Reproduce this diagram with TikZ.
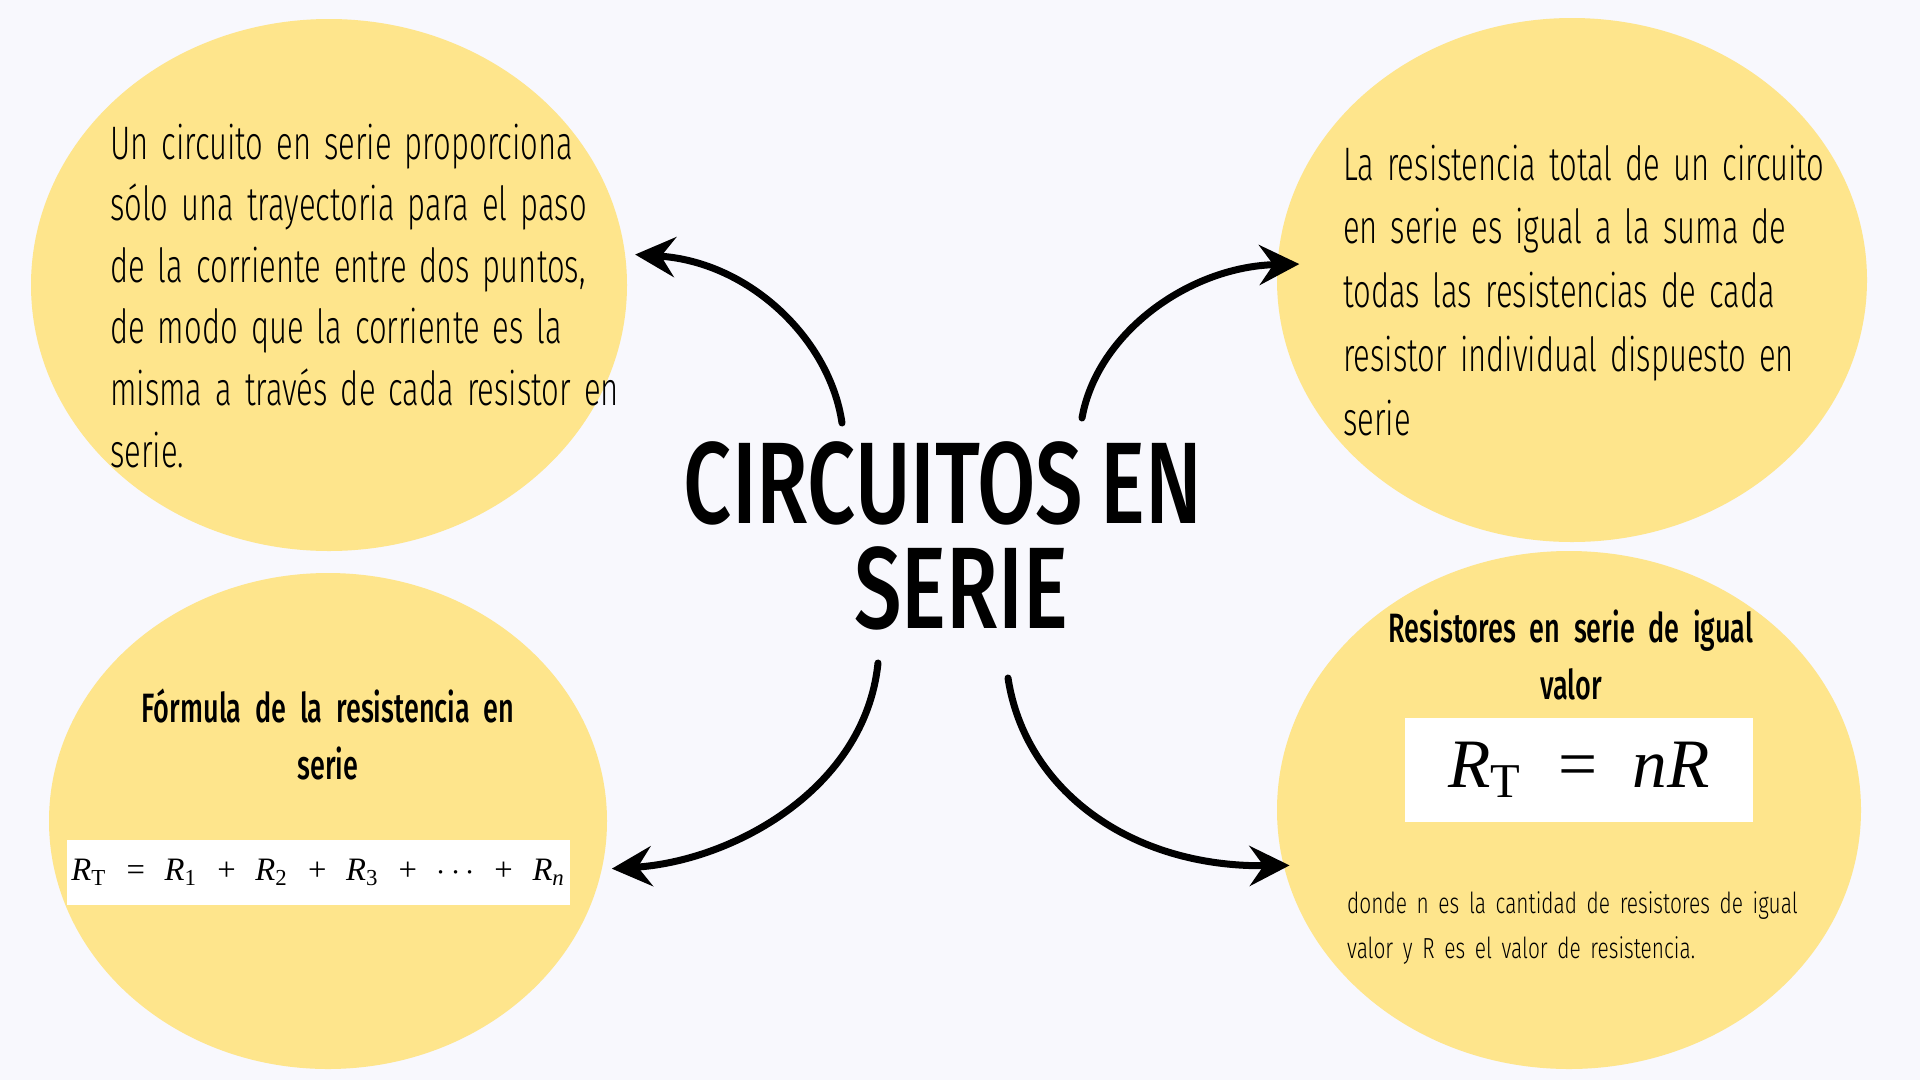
\documentclass[tikz,border=0pt]{standalone}
\usepackage{fontspec}
\usepackage{graphicx}
\usetikzlibrary{arrows.meta,shapes.geometric}

\newfontfamily\bodyfont{Fira Sans Light}[FakeStretch=0.66]
\newfontfamily\notefont{Fira Sans Light}[FakeStretch=0.72]
\newfontfamily\headfont{Fira Sans Medium}[FakeStretch=0.66]
\newfontfamily\titlefont{Fira Sans Medium}[FakeStretch=0.73]
\newfontfamily\formfont{Liberation Serif}
\newcommand\resR[1]{\textit{R}\textsubscript{#1}}
\newcommand\opgap{\hspace{0.6em}}
\newcommand\wordgap[1]{\spaceskip=#1\relax}
\definecolor{paper}{RGB}{248,248,253}
\definecolor{bubble}{RGB}{254,229,140}

\begin{document}
\begin{tikzpicture}[x=1pt, y=-1pt,
    bubble/.style={ellipse, fill=bubble, draw=none, inner sep=0pt},
    bodytext/.style={anchor=base west, inner sep=0pt, align=left, text width=620pt},
    headtext/.style={anchor=base, inner sep=0pt, align=center, text width=480pt,
        font=\headfont\fontsize{41}{57}\selectfont},
    formbox/.style={fill=white, inner sep=0pt, font=\formfont},
    link/.style={line width=7pt, line cap=round, -{Stealth[length=40pt, width=40pt, inset=14pt]}}]

    \fill[paper] (0,0) rectangle (1920,1080); % background
    \useasboundingbox (0,0) rectangle (1920,1080);

    % Bubbles
    \node[bubble, minimum width=596pt, minimum height=532pt] (tlbub) at (329,285) {};
    \node[bubble, minimum width=590pt, minimum height=524pt] (trbub) at (1572,280) {};
    \node[bubble, minimum width=558pt, minimum height=496pt] (blbub) at (328,821) {};
    \node[bubble, minimum width=584pt, minimum height=518pt] (brbub) at (1569,810) {};

    % Title
    \node[anchor=base, inner sep=0pt, align=center, text width=700pt,
        font=\titlefont\fontsize{116}{105}\selectfont] (title) at (943,523)
        {CIRCUITOS\hspace{17pt}EN\\\hspace*{36pt}SERIE};

    % Top left
    \node[bodytext, font=\bodyfont\fontsize{47}{61.6}\selectfont] (tltext) at (110,159)
        {\wordgap{13pt}Un circuito en serie proporciona\\
         sólo una trayectoria para el paso\\
         de la corriente entre dos puntos,\\
         de modo que la corriente es la\\
         misma a través de cada resistor en\\
         serie.};

    % Top right
    \node[bodytext, font=\bodyfont\fontsize{47}{63.8}\selectfont] (trtext) at (1343,180)
        {\wordgap{13pt}La resistencia total de un circuito\\
         en serie es igual a la suma de\\
         todas las resistencias de cada\\
         resistor individual dispuesto en\\
         serie};

    % Bottom left
    \node[headtext] (blhead) at (328,722) {Fórmula de la resistencia en\\serie};
    \node[formbox, minimum width=503pt, minimum height=65pt] (sumbox) at (318.5,872.5)
        {\resizebox{494pt}{!}{\resR{T}\opgap=\opgap\resR{1}\opgap+\opgap\resR{2}\opgap+\opgap\resR{3}\opgap+\opgap$\cdots$\opgap+\opgap\textit{R}\textsubscript{\textit{n}}}};

    % Bottom right
    \node[headtext] (brhead) at (1571,642) {Resistores en serie de igual\\valor};
    \node[formbox, minimum width=348pt, minimum height=104pt] (prodbox) at (1579,770)
        {\resizebox{261pt}{!}{\resR{T}\hspace{0.5em}=\hspace{0.5em}\textit{nR}}};
    \node[bodytext, font=\notefont\fontsize{29}{45}\selectfont] (brnote) at (1347,913)
        {donde n es la cantidad de resistores de igual\\
         valor y R es el valor de resistencia.};

    % Connectors
    \coordinate (tlfoot) at (842,423);
    \coordinate (trfoot) at (1082,418);
    \coordinate (blfoot) at (878,663);
    \coordinate (brfoot) at (1008,678);
    \draw[link, shorten >=10pt] (tlfoot) .. controls +(-12,-83) and +(125,8) .. (tlbub.6);
    \draw[link, shorten >=-22pt] (trfoot) .. controls +(15,-85) and +(-88,2) .. (trbub.177);
    \draw[link, shorten >=10pt] (blfoot) .. controls +(-13,127) and +(129,-8) .. (blbub.350);
    \draw[link, shorten >=-6pt] (brfoot) .. controls +(17,112) and +(-153,2) .. (brbub.191);

\end{tikzpicture}
\end{document}
